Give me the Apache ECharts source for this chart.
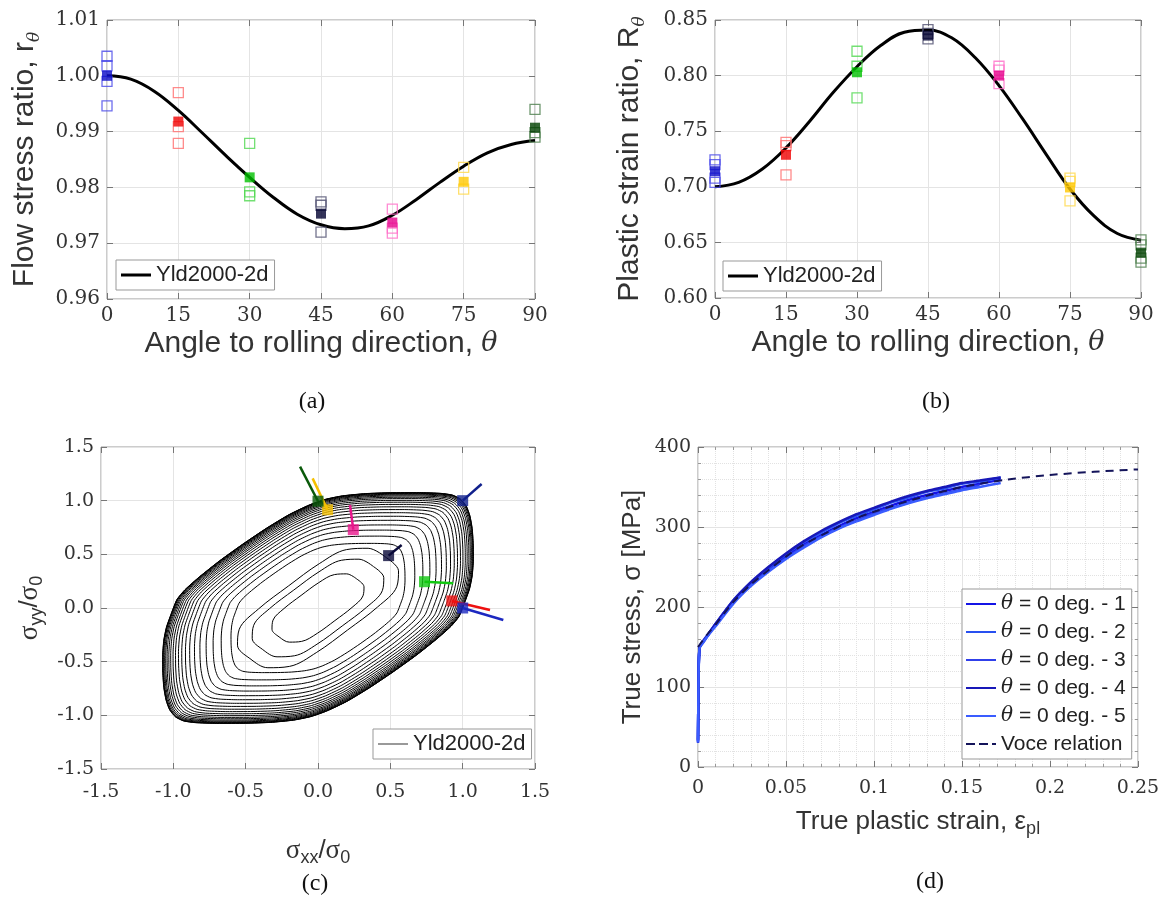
<!DOCTYPE html>
<html>
<head>
<meta charset="utf-8">
<script src="https://cdn.jsdelivr.net/npm/echarts@6.0.0/dist/echarts.min.js"></script>
<style>
html, body { margin: 0; padding: 0; background: #fff; }
#main { width: 1163px; height: 898px; }
</style>
</head>
<body>
<div id="main"></div>
<script>
// ---------- (a)(b) 各角度试验数据 ----------
const angles = [0, 15, 30, 45, 60, 75, 90];
const fillColors = ['#0a0ac8', '#f00000', '#00c000', '#000030', '#e6008c', '#ffc800', '#004000'];
const openColors = ['#4848e8', '#ff6e6e', '#50d850', '#505070', '#ff6ec8', '#ffd848', '#4e804e'];

const flowRatioMean = [1.0000, 0.9918, 0.9818, 0.9753, 0.9737, 0.9810, 0.9907];
const flowRatioTests = [
	[1.0035, 1.0018, 0.9990, 0.9946],
	[0.9970, 0.9909, 0.9879],
	[0.9879, 0.9792, 0.9785],
	[0.9774, 0.9768, 0.9720],
	[0.9761, 0.9727, 0.9718],
	[0.9836, 0.9797],
	[0.9940, 0.9898, 0.9890]
];

const strainRatioMean = [0.7140, 0.7288, 0.8030, 0.8360, 0.8000, 0.6994, 0.6408];
const strainRatioTests = [
	[0.7243, 0.7200, 0.7078, 0.7040],
	[0.7400, 0.7370, 0.7108],
	[0.8219, 0.8084, 0.7799],
	[0.8414, 0.8380, 0.8330],
	[0.8084, 0.8050, 0.7928],
	[0.7078, 0.7048, 0.6874],
	[0.6523, 0.6477, 0.6358, 0.6322]
];

// Yld2000-2d 预测曲线 (每 5 度读一个点)
const curveAngles = [0, 5, 10, 15, 20, 25, 30, 35, 40, 45, 50, 55, 60, 65, 70, 75, 80, 85, 90];
const flowRatioYld = [1.0000, 0.9994, 0.9972, 0.9938, 0.9898, 0.9857, 0.9818, 0.9782, 0.9752, 0.9733,
	0.9726, 0.9731, 0.9750, 0.9778, 0.9809, 0.9838, 0.9862, 0.9877, 0.9884];
const strainRatioYld = [0.700, 0.704, 0.716, 0.735, 0.759, 0.785, 0.808, 0.827, 0.839, 0.841,
	0.834, 0.816, 0.791, 0.761, 0.729, 0.698, 0.674, 0.658, 0.652];

// ---------- (c) 屈服轨迹 ----------
const locusOuter = [
	[1.000, 0.000], [1.022, 0.080], [1.048, 0.180], [1.066, 0.300], [1.074, 0.450], [1.073, 0.600],
	[1.066, 0.740], [1.050, 0.860], [1.025, 0.950], [0.985, 1.015], [0.930, 1.052], [0.850, 1.068],
	[0.700, 1.075], [0.500, 1.074], [0.330, 1.066], [0.170, 1.045], [0.050, 1.012], [-0.060, 0.960],
	[-0.200, 0.870], [-0.360, 0.740], [-0.520, 0.595], [-0.680, 0.440], [-0.820, 0.290], [-0.920, 0.170],
	[-0.975, 0.080],
	[-1.000, 0.000], [-1.022, -0.080], [-1.048, -0.180], [-1.066, -0.300], [-1.074, -0.450], [-1.073, -0.600],
	[-1.066, -0.740], [-1.050, -0.860], [-1.025, -0.950], [-0.985, -1.015], [-0.930, -1.052], [-0.850, -1.068],
	[-0.700, -1.075], [-0.500, -1.074], [-0.330, -1.066], [-0.170, -1.045], [-0.050, -1.012], [0.060, -0.960],
	[0.200, -0.870], [0.360, -0.740], [0.520, -0.595], [0.680, -0.440], [0.820, -0.290], [0.920, -0.170],
	[0.975, -0.080]
];
// 最内层的椭圆状轨迹
const locusInner = [
	[0.269, 0.269], [0.198, 0.318], [0.113, 0.311], [0.005, 0.236], [-0.117, 0.117], [-0.235, -0.005],
	[-0.311, -0.113], [-0.318, -0.198], [-0.269, -0.269], [-0.198, -0.318], [-0.113, -0.311], [-0.005, -0.236],
	[0.117, -0.117], [0.235, 0.005], [0.311, 0.113], [0.318, 0.198]
];
const outerLevels = [1.0, 0.999, 0.997, 0.993, 0.987, 0.980, 0.971, 0.960, 0.948, 0.933, 0.917, 0.898,
	0.877, 0.853, 0.826, 0.795, 0.760, 0.720, 0.675, 0.623, 0.560];
const innerLevels = [1.75, 1.43, 1.0];

const pointXX = [1.000, 0.925, 0.736, 0.488, 0.244, 0.066, 0.000, 1.000];
const pointYY = [0.000, 0.066, 0.245, 0.488, 0.730, 0.915, 0.995, 1.000];
const normalXX = [1.281, 1.189, 0.935, 0.578, 0.221, -0.037, -0.124, 1.131];
const normalYY = [-0.112, -0.019, 0.230, 0.587, 0.960, 1.208, 1.317, 1.155];
const pointColors = ['#1c28c0', '#ee1010', '#10c810', '#0a0a3a', '#e8168c', '#f5c000', '#0a5a0a', '#10208c'];

// ---------- (d) 真应力-真塑性应变 ----------
const expStrain = [0, 0.0004, 0.001, 0.003, 0.006, 0.01, 0.02, 0.03, 0.04, 0.05, 0.06, 0.07,
	0.08, 0.09, 0.10, 0.11, 0.12, 0.13, 0.14, 0.15, 0.16, 0.172];
const expStress1 = [32, 125, 150, 157, 166, 178, 206, 228, 246, 263, 278, 290, 301, 311, 319, 327, 334, 340, 345, 350, 354, 359];
const expStress2 = [34, 122, 149, 156, 166, 178, 208, 230, 249, 266, 281, 293, 305, 314, 322, 331, 337, 344, 348, 354, 357, 362];
const expStress3 = [30, 128, 151, 158, 167, 179, 207, 229, 245, 261, 276, 288, 299, 308, 317, 324, 331, 337, 342, 347, 352];
const expStress4 = [33, 124, 150, 157, 166, 179, 208, 231, 250, 267, 282, 295, 306, 316, 324, 332, 339, 345, 350, 355, 358, 362];
const expStress5 = [31, 126, 150, 156, 165, 176, 204, 226, 244, 260, 274, 287, 298, 307, 315, 323, 330, 336, 341, 346, 350, 355];
const expNames = ['θ = 0 deg. - 1', 'θ = 0 deg. - 2', 'θ = 0 deg. - 3', 'θ = 0 deg. - 4', 'θ = 0 deg. - 5'];
const expColors = ['#1414e6', '#2850f0', '#3040ea', '#1818b8', '#3a5cff'];
const voceStrain = [0, 0.002, 0.005, 0.01, 0.02, 0.03, 0.04, 0.05, 0.06, 0.075, 0.09, 0.1, 0.125, 0.15, 0.175, 0.2, 0.225, 0.25];
const voceStress = [150, 156, 165, 178, 206, 228, 246, 263, 278, 295, 311, 319, 336, 350, 359, 365, 369, 372];

// ---------- 样式 ----------
const TICK_FONT = 'DejaVu Serif';
const TITLE_FONT = 'Liberation Sans';
const TXT = '#333';

// 上排 (a)(b) 字号比下排大一些
function makeRich(big) {
	const f = big ? 30 : 26;
	const lh = big ? 36 : 32;
	return {
		t: { fontFamily: TITLE_FONT, fontSize: f, color: TXT, lineHeight: lh },
		s: { fontFamily: TITLE_FONT, fontSize: 18, color: TXT, lineHeight: 16, verticalAlign: 'bottom' },
		i: { fontFamily: 'DejaVu Serif', fontStyle: 'italic', fontSize: f - 3, color: TXT, lineHeight: lh },
		si: { fontFamily: 'DejaVu Serif', fontStyle: 'italic', fontSize: 17, color: TXT, lineHeight: 16, verticalAlign: 'bottom' },
		m: { fontFamily: 'Liberation Serif', fontSize: 27, color: TXT, lineHeight: lh }
	};
}

function baseAxis(gi, min, max, interval, digits, fontSize) {
	const ax = {
		type: 'value', gridIndex: gi, min: min, max: max, interval: interval,
		axisLine: { show: false, onZero: false },
		axisTick: { show: true, inside: true, length: 6, lineStyle: { color: '#777' } },
		axisLabel: { fontFamily: TICK_FONT, fontSize: fontSize || 19, color: TXT, margin: 7 },
		splitLine: { show: true, lineStyle: { color: '#e4e4e4', width: 1 } }
	};
	if (digits != null) ax.axisLabel.formatter = v => v.toFixed(digits);
	return ax;
}

function withName(ax, name, gap, rotate, big) {
	ax.name = name;
	ax.nameLocation = 'middle';
	ax.nameGap = gap;
	if (rotate) ax.nameRotate = rotate;
	ax.nameTextStyle = { rich: makeRich(big) };
	return ax;
}

function mirror(ax, pos) {
	const m = Object.assign({}, ax);
	m.position = pos;
	m.axisLabel = { show: false };
	m.splitLine = { show: false };
	m.minorSplitLine = { show: false };
	m.name = '';
	return m;
}

const xA = withName(baseAxis(0, 0, 90, 15, null, 20), '{t|Angle to rolling direction, }{i|θ}', 27, 0, true);
const xB = withName(baseAxis(1, 0, 90, 15, null, 20), '{t|Angle to rolling direction, }{i|θ}', 27, 0, true);
const xC = withName(baseAxis(2, -1.5, 1.5, 0.5, 1), '{m|σ}{s|xx}{t|/}{m|σ}{s|0}', 66);
xC.axisLabel.margin = 14;
const xD = withName(baseAxis(3, 0, 0.25, 0.05), '{t|True plastic strain, ε}{s|pl}', 39);
xD.axisLabel.margin = 12;
xD.minorTick = { show: true, splitNumber: 5, length: 3, lineStyle: { color: '#999' } };
xD.minorSplitLine = { show: true, lineStyle: { color: '#e2e2e2', type: 'dotted' } };

const yA = withName(baseAxis(0, 0.96, 1.01, 0.01, 2, 20), '{t|Flow stress ratio, r}{si|θ}', 64, 90, true);
const yB = withName(baseAxis(1, 0.60, 0.85, 0.05, 2, 20), '{t|Plastic strain ratio, R}{si|θ}', 67, 90, true);
const yC = withName(baseAxis(2, -1.5, 1.5, 0.5, 1), '{m|σ}{s|yy}{t|/}{m|σ}{s|0}', 55, 90);
const yD = withName(baseAxis(3, 0, 400, 100), '{t|True stress, σ [MPa]}', 49, 90);
yD.minorTick = { show: true, splitNumber: 5, length: 3, lineStyle: { color: '#999' } };
yD.minorSplitLine = { show: true, lineStyle: { color: '#e2e2e2', type: 'dotted' } };

const xAxes = [xA, xB, xC, xD];
const yAxes = [yA, yB, yC, yD];
const xAxisList = xAxes.concat(xAxes.map(a => mirror(a, 'top')));
const yAxisList = yAxes.concat(yAxes.map(a => mirror(a, 'right')));

const gridBox = { show: true, borderColor: '#999', borderWidth: 1, backgroundColor: '#fff' };
const grids = [
	Object.assign({ left: 107, top: 20, width: 428, height: 279 }, gridBox),
	Object.assign({ left: 715, top: 20, width: 426, height: 278 }, gridBox),
	Object.assign({ left: 101, top: 447, width: 434, height: 322 }, gridBox),
	Object.assign({ left: 698, top: 447, width: 440, height: 320 }, gridBox)
];

// ---------- 系列 ----------
const series = [];

function ratioSeries(gi, tag, curve, tests, means) {
	series.push({
		type: 'line', name: 'Yld2000-2d|' + tag, xAxisIndex: gi, yAxisIndex: gi,
		data: curveAngles.map((a, k) => [a, curve[k]]),
		smooth: 0.4, symbol: 'none', itemStyle: { color: '#000' },
		lineStyle: { color: '#000', width: 3 }, z: 2
	});
	angles.forEach((ang, k) => {
		series.push({
			type: 'scatter', xAxisIndex: gi, yAxisIndex: gi, clip: false,
			data: tests[k].map(v => [ang, v]),
			symbol: 'rect', symbolSize: 10,
			itemStyle: { color: 'rgba(0,0,0,0)', borderColor: openColors[k], borderWidth: 1.3 }, z: 3
		});
		series.push({
			type: 'scatter', xAxisIndex: gi, yAxisIndex: gi, clip: false,
			data: [[ang, means[k]]],
			symbol: 'rect', symbolSize: 10,
			itemStyle: { color: fillColors[k] }, z: 4
		});
	});
}
ratioSeries(0, 'a', flowRatioYld, flowRatioTests, flowRatioMean);
ratioSeries(1, 'b', strainRatioYld, strainRatioTests, strainRatioMean);

// (c) 等值线
function locusSeries(shape, k, name, smooth) {
	const pts = shape.map(p => [p[0] * k, p[1] * k]);
	pts.push(pts[0]);
	const s = {
		type: 'line', xAxisIndex: 2, yAxisIndex: 2, data: pts, smooth: smooth,
		symbol: 'none', itemStyle: { color: '#000' },
		lineStyle: { color: '#000', width: 1 }, z: 2, silent: true
	};
	if (name) s.name = name;
	return s;
}
outerLevels.forEach((k, n) => series.push(locusSeries(locusOuter, k, n === 0 ? 'Yld2000-2d|c' : null, 0.2)));
innerLevels.forEach(k => series.push(locusSeries(locusInner, k, null, 0.35)));

pointXX.forEach((x, k) => {
	series.push({
		type: 'line', xAxisIndex: 2, yAxisIndex: 2,
		data: [[x, pointYY[k]], [normalXX[k], normalYY[k]]],
		symbol: 'none', lineStyle: { color: pointColors[k], width: 2.5 }, z: 3
	});
	series.push({
		type: 'scatter', xAxisIndex: 2, yAxisIndex: 2,
		data: [[x, pointYY[k]]], symbol: 'rect', symbolSize: 11,
		itemStyle: { color: pointColors[k] }, z: 4
	});
});

// (d)
[expStress1, expStress2, expStress3, expStress4, expStress5].forEach((arr, k) => {
	series.push({
		type: 'line', name: expNames[k], xAxisIndex: 3, yAxisIndex: 3,
		data: arr.map((v, j) => [expStrain[j], v]),
		symbol: 'none', smooth: 0.2, itemStyle: { color: expColors[k] },
		lineStyle: { color: expColors[k], width: 2.5 }, z: 2
	});
});
series.push({
	type: 'line', name: 'Voce relation', xAxisIndex: 3, yAxisIndex: 3,
	data: voceStrain.map((e, j) => [e, voceStress[j]]),
	symbol: 'none', smooth: 0.3, itemStyle: { color: '#14145a' },
	lineStyle: { color: '#14145a', width: 2, type: [8, 6] }, z: 3
});

// ---------- 图例 ----------
const DASH_ICON = 'path://M0,0h9v2h-9zM13,0h9v2h-9zM26,0h4v2h-4z';

function legendBox(left, top, items, extra) {
	return Object.assign({
		left: left, top: top, orient: 'vertical', data: items, selectedMode: false,
		borderColor: '#999', borderWidth: 1, backgroundColor: '#fff', borderRadius: 0,
		padding: [3, 6, 3, 5], itemWidth: 30, itemHeight: 3, itemGap: 6,
		formatter: n => n.split('|')[0],
		textStyle: { fontFamily: TITLE_FONT, fontSize: 22, color: '#222', lineHeight: 24 }
	}, extra || {});
}

const legends = [
	legendBox(116, 260, [{ name: 'Yld2000-2d|a', icon: 'rect' }]),
	legendBox(723, 261, [{ name: 'Yld2000-2d|b', icon: 'rect' }]),
	legendBox(373, 729, [{ name: 'Yld2000-2d|c', icon: 'rect' }], { itemHeight: 1.2, itemStyle: { color: '#555' } }),
	legendBox(962, 589,
		expNames.map(n => ({ name: n, icon: 'rect' })).concat([{ name: 'Voce relation', icon: DASH_ICON }]), {
		itemGap: 6, itemWidth: 30, itemHeight: 2, padding: [4, 6, 4, 4],
		formatter: n => n.replace('θ', '{i|θ}'),
		textStyle: {
			fontFamily: TITLE_FONT, fontSize: 21, color: '#222', lineHeight: 22,
			rich: { i: { fontFamily: 'DejaVu Serif', fontStyle: 'italic', fontSize: 20, color: '#222', lineHeight: 22 } }
		}
	})
];

// ---------- 子图标号 ----------
const panelTags = [['(a)', 312, 402], ['(b)', 936, 402], ['(c)', 315, 884], ['(d)', 930, 882]];
const graphics = panelTags.map(p => ({
	type: 'text', x: p[1], y: p[2],
	style: { text: p[0], fontFamily: 'Liberation Serif', fontSize: 24, fill: '#111', align: 'center', verticalAlign: 'middle' }
}));

const chart = echarts.init(document.getElementById('main'));
chart.setOption({
	animation: false,
	backgroundColor: '#fff',
	grid: grids,
	xAxis: xAxisList,
	yAxis: yAxisList,
	legend: legends,
	graphic: graphics,
	series: series
});
</script>
</body>
</html>
